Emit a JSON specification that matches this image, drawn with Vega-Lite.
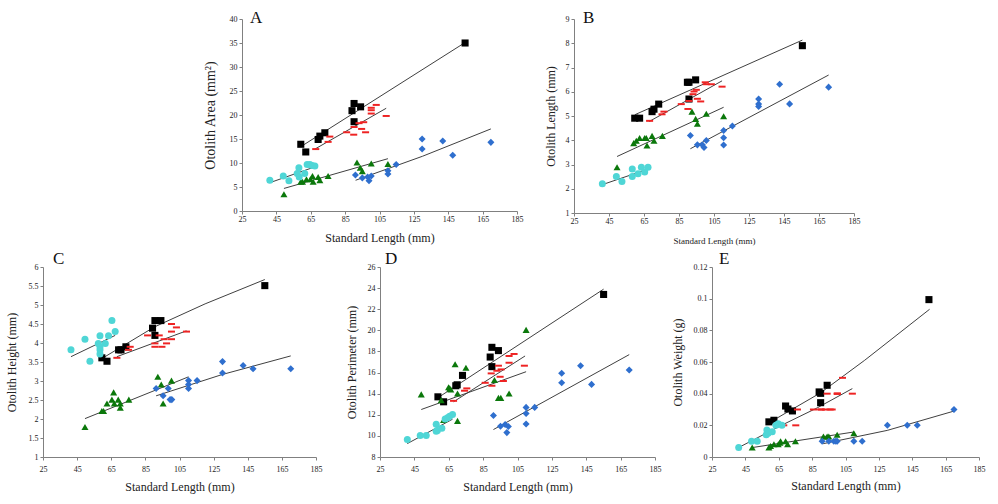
{
  "$schema": "https://vega.github.io/schema/vega-lite/v6.json",
  "padding": {"left": 5, "top": 9, "right": 5, "bottom": 5},
  "config": {
    "font": "Liberation Serif",
    "view": {"stroke": null},
    "axis": {"grid": false, "domainColor": "#808080", "tickColor": "#808080", "tickSize": 3, "labelFontSize": 8, "labelColor": "#222222", "titleColor": "#222222", "titleFontWeight": "normal", "labelFont": "Liberation Serif", "titleFont": "Liberation Serif", "labelOverlap": false, "tickCount": 30, "format": "~g"},
    "axisX": {"labelFlush": false},
    "title": {"font": "Liberation Serif", "fontWeight": "normal", "fontSize": 17, "anchor": "start", "frame": "group", "color": "#111111", "baseline": "alphabetic", "offset": -8},
    "line": {"color": "#404040", "strokeWidth": 1}
  },
  "datasets": {
    "pts": [
      {"panel":"A","species":"black","sl":59.2,"value":13.9},{"panel":"A","species":"black","sl":62.1,"value":12.3},{"panel":"A","species":"black","sl":69.3,"value":14.9},{"panel":"A","species":"black","sl":70.3,"value":15.6},{"panel":"A","species":"black","sl":73.2,"value":16.3},{"panel":"A","species":"black","sl":89.0,"value":20.9},{"panel":"A","species":"black","sl":90.2,"value":22.4},{"panel":"A","species":"black","sl":94.0,"value":21.7},{"panel":"A","species":"black","sl":90.2,"value":18.6},{"panel":"A","species":"black","sl":154.8,"value":35.0},
      {"panel":"A","species":"red","sl":67.9,"value":12.9},{"panel":"A","species":"red","sl":75.1,"value":14.4},{"panel":"A","species":"red","sl":76.1,"value":15.5},{"panel":"A","species":"red","sl":85.9,"value":16.4},{"panel":"A","species":"red","sl":90.0,"value":15.9},{"panel":"A","species":"red","sl":90.2,"value":17.5},{"panel":"A","species":"red","sl":93.1,"value":18.3},{"panel":"A","species":"red","sl":95.8,"value":18.5},{"panel":"A","species":"red","sl":94.6,"value":17.1},{"panel":"A","species":"red","sl":96.9,"value":16.4},{"panel":"A","species":"red","sl":100.2,"value":21.5},{"panel":"A","species":"red","sl":100.2,"value":21.0},{"panel":"A","species":"red","sl":100.2,"value":20.3},{"panel":"A","species":"red","sl":103.1,"value":22.1},{"panel":"A","species":"red","sl":108.9,"value":19.8},
      {"panel":"A","species":"green","sl":49.4,"value":3.5},{"panel":"A","species":"green","sl":59.2,"value":6.1},{"panel":"A","species":"green","sl":60.2,"value":6.1},{"panel":"A","species":"green","sl":62.5,"value":6.6},{"panel":"A","species":"green","sl":64.8,"value":6.6},{"panel":"A","species":"green","sl":66.0,"value":7.3},{"panel":"A","species":"green","sl":66.4,"value":6.1},{"panel":"A","species":"green","sl":69.3,"value":7.1},{"panel":"A","species":"green","sl":70.3,"value":6.4},{"panel":"A","species":"green","sl":75.1,"value":7.3},{"panel":"A","species":"green","sl":91.9,"value":10.1},{"panel":"A","species":"green","sl":93.8,"value":9.0},{"panel":"A","species":"green","sl":95.0,"value":8.3},{"panel":"A","species":"green","sl":100.2,"value":9.9},{"panel":"A","species":"green","sl":109.9,"value":9.8},
      {"panel":"A","species":"blue","sl":91.0,"value":7.5},{"panel":"A","species":"blue","sl":95.0,"value":6.9},{"panel":"A","species":"blue","sl":98.1,"value":7.1},{"panel":"A","species":"blue","sl":98.9,"value":6.3},{"panel":"A","species":"blue","sl":100.2,"value":7.3},{"panel":"A","species":"blue","sl":109.9,"value":8.4},{"panel":"A","species":"blue","sl":109.9,"value":7.7},{"panel":"A","species":"blue","sl":114.7,"value":9.7},{"panel":"A","species":"blue","sl":129.8,"value":15.0},{"panel":"A","species":"blue","sl":129.8,"value":12.9},{"panel":"A","species":"blue","sl":141.8,"value":14.6},{"panel":"A","species":"blue","sl":147.6,"value":11.6},{"panel":"A","species":"blue","sl":169.8,"value":14.3},
      {"panel":"A","species":"cyan","sl":41.2,"value":6.4},{"panel":"A","species":"cyan","sl":49.0,"value":7.3},{"panel":"A","species":"cyan","sl":52.3,"value":6.3},{"panel":"A","species":"cyan","sl":57.1,"value":7.8},{"panel":"A","species":"cyan","sl":58.1,"value":9.0},{"panel":"A","species":"cyan","sl":58.3,"value":7.1},{"panel":"A","species":"cyan","sl":61.5,"value":7.8},{"panel":"A","species":"cyan","sl":62.9,"value":9.7},{"panel":"A","species":"cyan","sl":64.5,"value":9.7},{"panel":"A","species":"cyan","sl":65.8,"value":9.5},{"panel":"A","species":"cyan","sl":67.4,"value":9.4},

      {"panel":"B","species":"black","sl":59.7,"value":4.91},{"panel":"B","species":"black","sl":62.5,"value":4.91},{"panel":"B","species":"black","sl":69.6,"value":5.18},{"panel":"B","species":"black","sl":70.7,"value":5.28},{"panel":"B","species":"black","sl":73.4,"value":5.49},{"panel":"B","species":"black","sl":89.8,"value":6.39},{"panel":"B","species":"black","sl":90.7,"value":6.39},{"panel":"B","species":"black","sl":94.5,"value":6.49},{"panel":"B","species":"black","sl":90.7,"value":5.70},{"panel":"B","species":"black","sl":155.5,"value":7.90},
      {"panel":"B","species":"red","sl":68.2,"value":4.80},{"panel":"B","species":"red","sl":75.3,"value":5.07},{"panel":"B","species":"red","sl":76.4,"value":5.18},{"panel":"B","species":"red","sl":86.3,"value":5.49},{"panel":"B","species":"red","sl":90.1,"value":5.29},{"panel":"B","species":"red","sl":90.7,"value":5.62},{"panel":"B","species":"red","sl":93.0,"value":5.90},{"panel":"B","species":"red","sl":93.6,"value":6.01},{"panel":"B","species":"red","sl":94.9,"value":6.08},{"panel":"B","species":"red","sl":95.5,"value":5.71},{"panel":"B","species":"red","sl":97.4,"value":5.60},{"panel":"B","species":"red","sl":100.0,"value":6.39},{"panel":"B","species":"red","sl":100.6,"value":6.31},{"panel":"B","species":"red","sl":103.5,"value":6.31},{"panel":"B","species":"red","sl":109.6,"value":6.21},
      {"panel":"B","species":"green","sl":49.6,"value":2.89},{"panel":"B","species":"green","sl":59.1,"value":3.88},{"panel":"B","species":"green","sl":60.6,"value":3.98},{"panel":"B","species":"green","sl":62.5,"value":4.09},{"panel":"B","species":"green","sl":65.4,"value":4.09},{"panel":"B","species":"green","sl":66.3,"value":4.09},{"panel":"B","species":"green","sl":66.7,"value":3.78},{"panel":"B","species":"green","sl":69.6,"value":4.18},{"panel":"B","species":"green","sl":70.7,"value":3.98},{"panel":"B","species":"green","sl":75.5,"value":4.18},{"panel":"B","species":"green","sl":92.4,"value":5.18},{"panel":"B","species":"green","sl":94.5,"value":4.88},{"panel":"B","species":"green","sl":95.5,"value":4.68},{"panel":"B","species":"green","sl":100.6,"value":5.09},{"panel":"B","species":"green","sl":110.5,"value":4.99},
      {"panel":"B","species":"blue","sl":91.5,"value":4.20},{"panel":"B","species":"blue","sl":95.5,"value":3.81},{"panel":"B","species":"blue","sl":98.3,"value":3.81},{"panel":"B","species":"blue","sl":99.3,"value":3.70},{"panel":"B","species":"blue","sl":100.6,"value":3.99},{"panel":"B","species":"blue","sl":110.5,"value":4.40},{"panel":"B","species":"blue","sl":110.5,"value":4.10},{"panel":"B","species":"blue","sl":110.5,"value":3.80},{"panel":"B","species":"blue","sl":115.5,"value":4.59},{"panel":"B","species":"blue","sl":130.5,"value":5.70},{"panel":"B","species":"blue","sl":130.5,"value":5.49},{"panel":"B","species":"blue","sl":130.5,"value":5.39},{"panel":"B","species":"blue","sl":142.5,"value":6.31},{"panel":"B","species":"blue","sl":148.2,"value":5.50},{"panel":"B","species":"blue","sl":170.5,"value":6.19},
      {"panel":"B","species":"cyan","sl":41.2,"value":2.21},{"panel":"B","species":"cyan","sl":49.2,"value":2.51},{"panel":"B","species":"cyan","sl":52.4,"value":2.30},{"panel":"B","species":"cyan","sl":58.3,"value":2.81},{"panel":"B","species":"cyan","sl":58.3,"value":2.51},{"panel":"B","species":"cyan","sl":61.6,"value":2.62},{"panel":"B","species":"cyan","sl":63.5,"value":2.89},{"panel":"B","species":"cyan","sl":65.4,"value":2.69},{"panel":"B","species":"cyan","sl":67.3,"value":2.89},

      {"panel":"C","species":"black","sl":59.5,"value":3.61},{"panel":"C","species":"black","sl":62.5,"value":3.52},{"panel":"C","species":"black","sl":69.3,"value":3.82},{"panel":"C","species":"black","sl":70.7,"value":3.82},{"panel":"C","species":"black","sl":73.6,"value":3.90},{"panel":"C","species":"black","sl":89.2,"value":4.39},{"panel":"C","species":"black","sl":90.6,"value":4.59},{"panel":"C","species":"black","sl":94.1,"value":4.59},{"panel":"C","species":"black","sl":90.6,"value":4.20},{"panel":"C","species":"black","sl":155.0,"value":5.51},
      {"panel":"C","species":"red","sl":68.3,"value":3.61},{"panel":"C","species":"red","sl":75.1,"value":3.82},{"panel":"C","species":"red","sl":76.1,"value":3.90},{"panel":"C","species":"red","sl":86.3,"value":4.20},{"panel":"C","species":"red","sl":90.6,"value":3.99},{"panel":"C","species":"red","sl":90.6,"value":3.90},{"panel":"C","species":"red","sl":93.1,"value":4.20},{"panel":"C","species":"red","sl":94.7,"value":3.90},{"panel":"C","species":"red","sl":96.0,"value":4.10},{"panel":"C","species":"red","sl":97.4,"value":3.99},{"panel":"C","species":"red","sl":100.3,"value":4.50},{"panel":"C","species":"red","sl":100.3,"value":4.30},{"panel":"C","species":"red","sl":100.3,"value":4.10},{"panel":"C","species":"red","sl":103.2,"value":4.41},{"panel":"C","species":"red","sl":109.1,"value":4.30},
      {"panel":"C","species":"green","sl":49.6,"value":1.79},{"panel":"C","species":"green","sl":59.5,"value":2.21},{"panel":"C","species":"green","sl":60.5,"value":2.21},{"panel":"C","species":"green","sl":62.5,"value":2.41},{"panel":"C","species":"green","sl":65.4,"value":2.51},{"panel":"C","species":"green","sl":66.4,"value":2.70},{"panel":"C","species":"green","sl":66.8,"value":2.41},{"panel":"C","species":"green","sl":69.1,"value":2.51},{"panel":"C","species":"green","sl":70.3,"value":2.41},{"panel":"C","species":"green","sl":70.3,"value":2.30},{"panel":"C","species":"green","sl":75.3,"value":2.51},{"panel":"C","species":"green","sl":92.3,"value":3.11},{"panel":"C","species":"green","sl":94.3,"value":2.91},{"panel":"C","species":"green","sl":95.4,"value":2.41},{"panel":"C","species":"green","sl":100.3,"value":3.01},
      {"panel":"C","species":"blue","sl":91.3,"value":2.80},{"panel":"C","species":"blue","sl":95.4,"value":2.61},{"panel":"C","species":"blue","sl":98.4,"value":2.80},{"panel":"C","species":"blue","sl":99.5,"value":2.51},{"panel":"C","species":"blue","sl":100.5,"value":2.51},{"panel":"C","species":"blue","sl":110.3,"value":3.01},{"panel":"C","species":"blue","sl":110.3,"value":2.91},{"panel":"C","species":"blue","sl":110.3,"value":2.80},{"panel":"C","species":"blue","sl":115.3,"value":3.01},{"panel":"C","species":"blue","sl":130.2,"value":3.51},{"panel":"C","species":"blue","sl":130.2,"value":3.21},{"panel":"C","species":"blue","sl":142.3,"value":3.41},{"panel":"C","species":"blue","sl":148.1,"value":3.32},{"panel":"C","species":"blue","sl":170.2,"value":3.32},
      {"panel":"C","species":"cyan","sl":41.4,"value":3.82},{"panel":"C","species":"cyan","sl":49.6,"value":4.10},{"panel":"C","species":"cyan","sl":52.5,"value":3.52},{"panel":"C","species":"cyan","sl":57.4,"value":3.99},{"panel":"C","species":"cyan","sl":58.4,"value":4.19},{"panel":"C","species":"cyan","sl":58.4,"value":3.90},{"panel":"C","species":"cyan","sl":58.4,"value":3.82},{"panel":"C","species":"cyan","sl":58.4,"value":3.71},{"panel":"C","species":"cyan","sl":61.5,"value":3.99},{"panel":"C","species":"cyan","sl":63.4,"value":4.19},{"panel":"C","species":"cyan","sl":65.4,"value":4.59},{"panel":"C","species":"cyan","sl":67.3,"value":4.30},

      {"panel":"D","species":"black","sl":58.7,"value":13.70},{"panel":"D","species":"black","sl":62.0,"value":13.23},{"panel":"D","species":"black","sl":69.1,"value":14.75},{"panel":"D","species":"black","sl":69.9,"value":14.84},{"panel":"D","species":"black","sl":73.0,"value":15.73},{"panel":"D","species":"black","sl":89.1,"value":17.47},{"panel":"D","species":"black","sl":90.1,"value":18.39},{"panel":"D","species":"black","sl":93.9,"value":18.08},{"panel":"D","species":"black","sl":90.1,"value":16.56},{"panel":"D","species":"black","sl":155.1,"value":23.40},
      {"panel":"D","species":"red","sl":67.8,"value":13.32},{"panel":"D","species":"red","sl":74.2,"value":14.28},{"panel":"D","species":"red","sl":75.5,"value":14.50},{"panel":"D","species":"red","sl":86.2,"value":15.03},{"panel":"D","species":"red","sl":90.1,"value":14.75},{"panel":"D","species":"red","sl":89.7,"value":15.92},{"panel":"D","species":"red","sl":93.0,"value":16.17},{"panel":"D","species":"red","sl":93.9,"value":16.65},{"panel":"D","species":"red","sl":94.9,"value":15.60},{"panel":"D","species":"red","sl":96.8,"value":15.20},{"panel":"D","species":"red","sl":95.5,"value":16.30},{"panel":"D","species":"red","sl":100.1,"value":17.57},{"panel":"D","species":"red","sl":100.1,"value":16.93},{"panel":"D","species":"red","sl":103.0,"value":17.76},{"panel":"D","species":"red","sl":109.0,"value":16.65},
      {"panel":"D","species":"green","sl":49.0,"value":13.93},{"panel":"D","species":"green","sl":60.6,"value":13.39},{"panel":"D","species":"green","sl":62.0,"value":11.50},{"panel":"D","species":"green","sl":64.9,"value":14.60},{"panel":"D","species":"green","sl":65.6,"value":14.50},{"panel":"D","species":"green","sl":66.2,"value":14.40},{"panel":"D","species":"green","sl":68.7,"value":16.78},{"panel":"D","species":"green","sl":70.1,"value":14.02},{"panel":"D","species":"green","sl":70.1,"value":11.42},{"panel":"D","species":"green","sl":75.0,"value":16.46},{"panel":"D","species":"green","sl":91.6,"value":15.29},{"panel":"D","species":"green","sl":93.9,"value":13.60},{"panel":"D","species":"green","sl":95.3,"value":13.60},{"panel":"D","species":"green","sl":100.1,"value":14.02},{"panel":"D","species":"green","sl":110.0,"value":20.04},
      {"panel":"D","species":"blue","sl":91.0,"value":11.93},{"panel":"D","species":"blue","sl":95.1,"value":10.92},{"panel":"D","species":"blue","sl":97.8,"value":11.07},{"panel":"D","species":"blue","sl":98.8,"value":10.31},{"panel":"D","species":"blue","sl":99.7,"value":10.88},{"panel":"D","species":"blue","sl":110.0,"value":12.70},{"panel":"D","species":"blue","sl":110.0,"value":12.12},{"panel":"D","species":"blue","sl":110.0,"value":11.12},{"panel":"D","species":"blue","sl":115.0,"value":12.70},{"panel":"D","species":"blue","sl":130.7,"value":15.93},{"panel":"D","species":"blue","sl":130.7,"value":15.03},{"panel":"D","species":"blue","sl":141.7,"value":16.65},{"panel":"D","species":"blue","sl":148.1,"value":14.88},{"panel":"D","species":"blue","sl":170.0,"value":16.24},
      {"panel":"D","species":"cyan","sl":40.9,"value":9.65},{"panel":"D","species":"cyan","sl":48.4,"value":10.03},{"panel":"D","species":"cyan","sl":51.9,"value":10.03},{"panel":"D","species":"cyan","sl":57.7,"value":11.11},{"panel":"D","species":"cyan","sl":57.7,"value":10.44},{"panel":"D","species":"cyan","sl":58.4,"value":10.50},{"panel":"D","species":"cyan","sl":61.0,"value":10.72},{"panel":"D","species":"cyan","sl":62.9,"value":11.61},{"panel":"D","species":"cyan","sl":64.3,"value":11.71},{"panel":"D","species":"cyan","sl":65.5,"value":11.87},{"panel":"D","species":"cyan","sl":67.2,"value":12.02},

      {"panel":"E","species":"black","sl":59.1,"value":0.0222},{"panel":"E","species":"black","sl":62.1,"value":0.0232},{"panel":"E","species":"black","sl":69.1,"value":0.0322},{"panel":"E","species":"black","sl":70.5,"value":0.0303},{"panel":"E","species":"black","sl":73.2,"value":0.0291},{"panel":"E","species":"black","sl":89.2,"value":0.0411},{"panel":"E","species":"black","sl":90.1,"value":0.0402},{"panel":"E","species":"black","sl":94.0,"value":0.0453},{"panel":"E","species":"black","sl":90.1,"value":0.0343},{"panel":"E","species":"black","sl":155.0,"value":0.0994},
      {"panel":"E","species":"red","sl":68.0,"value":0.02},{"panel":"E","species":"red","sl":75.2,"value":0.02},{"panel":"E","species":"red","sl":76.2,"value":0.03},{"panel":"E","species":"red","sl":85.8,"value":0.03},{"panel":"E","species":"red","sl":90.1,"value":0.03},{"panel":"E","species":"red","sl":90.6,"value":0.03},{"panel":"E","species":"red","sl":93.1,"value":0.03},{"panel":"E","species":"red","sl":95.8,"value":0.03},{"panel":"E","species":"red","sl":94.0,"value":0.04},{"panel":"E","species":"red","sl":97.0,"value":0.03},{"panel":"E","species":"red","sl":100.1,"value":0.04},{"panel":"E","species":"red","sl":100.1,"value":0.04},{"panel":"E","species":"red","sl":100.1,"value":0.04},{"panel":"E","species":"red","sl":103.2,"value":0.05},{"panel":"E","species":"red","sl":109.1,"value":0.04},
      {"panel":"E","species":"green","sl":49.1,"value":0.006},{"panel":"E","species":"green","sl":59.1,"value":0.006},{"panel":"E","species":"green","sl":60.1,"value":0.007},{"panel":"E","species":"green","sl":62.1,"value":0.008},{"panel":"E","species":"green","sl":64.7,"value":0.008},{"panel":"E","species":"green","sl":65.7,"value":0.009},{"panel":"E","species":"green","sl":66.1,"value":0.01},{"panel":"E","species":"green","sl":69.1,"value":0.01},{"panel":"E","species":"green","sl":70.3,"value":0.008},{"panel":"E","species":"green","sl":75.0,"value":0.01},{"panel":"E","species":"green","sl":91.8,"value":0.013},{"panel":"E","species":"green","sl":94.0,"value":0.013},{"panel":"E","species":"green","sl":95.0,"value":0.013},{"panel":"E","species":"green","sl":100.0,"value":0.014},{"panel":"E","species":"green","sl":110.0,"value":0.015},
      {"panel":"E","species":"blue","sl":91.0,"value":0.01},{"panel":"E","species":"blue","sl":95.0,"value":0.01},{"panel":"E","species":"blue","sl":98.0,"value":0.01},{"panel":"E","species":"blue","sl":99.2,"value":0.01},{"panel":"E","species":"blue","sl":100.0,"value":0.01},{"panel":"E","species":"blue","sl":110.0,"value":0.01},{"panel":"E","species":"blue","sl":115.0,"value":0.01},{"panel":"E","species":"blue","sl":130.1,"value":0.02},{"panel":"E","species":"blue","sl":142.0,"value":0.02},{"panel":"E","species":"blue","sl":148.0,"value":0.02},{"panel":"E","species":"blue","sl":170.0,"value":0.03},
      {"panel":"E","species":"cyan","sl":41.0,"value":0.006},{"panel":"E","species":"cyan","sl":48.7,"value":0.01},{"panel":"E","species":"cyan","sl":52.1,"value":0.01},{"panel":"E","species":"cyan","sl":57.5,"value":0.014},{"panel":"E","species":"cyan","sl":57.9,"value":0.017},{"panel":"E","species":"cyan","sl":58.6,"value":0.015},{"panel":"E","species":"cyan","sl":61.1,"value":0.016},{"panel":"E","species":"cyan","sl":63.3,"value":0.02},{"panel":"E","species":"cyan","sl":64.7,"value":0.021},{"panel":"E","species":"cyan","sl":66.9,"value":0.02}
    ],
    "fits": [
      {"panel":"A","species":"black","sl":59.2,"value":13.4},{"panel":"A","species":"black","sl":154.8,"value":35.1},
      {"panel":"A","species":"red","sl":67.4,"value":12.9},{"panel":"A","species":"red","sl":108.9,"value":21.4},
      {"panel":"A","species":"green","sl":49.4,"value":4.7},{"panel":"A","species":"green","sl":109.9,"value":10.9},
      {"panel":"A","species":"blue","sl":91.1,"value":6.4},{"panel":"A","species":"blue","sl":130.0,"value":11.4},{"panel":"A","species":"blue","sl":169.8,"value":17.1},
      {"panel":"A","species":"cyan","sl":41.2,"value":5.9},{"panel":"A","species":"cyan","sl":67.4,"value":9.2},
      {"panel":"B","species":"black","sl":59.7,"value":5.05},{"panel":"B","species":"black","sl":155.5,"value":8.13},
      {"panel":"B","species":"red","sl":67.9,"value":4.77},{"panel":"B","species":"red","sl":109.6,"value":6.45},
      {"panel":"B","species":"green","sl":49.6,"value":3.33},{"panel":"B","species":"green","sl":110.5,"value":5.36},
      {"panel":"B","species":"blue","sl":91.5,"value":3.65},{"panel":"B","species":"blue","sl":170.5,"value":6.69},
      {"panel":"B","species":"cyan","sl":41.2,"value":2.17},{"panel":"B","species":"cyan","sl":67.3,"value":2.81},
      {"panel":"C","species":"black","sl":59.5,"value":3.59},{"panel":"C","species":"black","sl":90.2,"value":4.42},{"panel":"C","species":"black","sl":120.0,"value":5.03},{"panel":"C","species":"black","sl":155.0,"value":5.67},
      {"panel":"C","species":"red","sl":68.3,"value":3.64},{"panel":"C","species":"red","sl":109.1,"value":4.32},
      {"panel":"C","species":"green","sl":49.6,"value":2.01},{"panel":"C","species":"green","sl":110.3,"value":3.11},
      {"panel":"C","species":"blue","sl":91.3,"value":2.61},{"panel":"C","species":"blue","sl":130.0,"value":3.17},{"panel":"C","species":"blue","sl":170.2,"value":3.66},
      {"panel":"C","species":"cyan","sl":41.4,"value":3.64},{"panel":"C","species":"cyan","sl":67.3,"value":4.20},
      {"panel":"D","species":"black","sl":58.1,"value":13.55},{"panel":"D","species":"black","sl":155.1,"value":23.9},
      {"panel":"D","species":"red","sl":67.8,"value":13.23},{"panel":"D","species":"red","sl":109.4,"value":17.57},
      {"panel":"D","species":"green","sl":49.0,"value":12.5},{"panel":"D","species":"green","sl":110.0,"value":16.08},
      {"panel":"D","species":"blue","sl":91.0,"value":10.6},{"panel":"D","species":"blue","sl":170.0,"value":17.7},
      {"panel":"D","species":"cyan","sl":40.9,"value":9.27},{"panel":"D","species":"cyan","sl":67.2,"value":11.58},
      {"panel":"E","species":"black","sl":58.3,"value":0.0211},{"panel":"E","species":"black","sl":90.0,"value":0.0405},{"panel":"E","species":"black","sl":116.5,"value":0.0611},{"panel":"E","species":"black","sl":155.4,"value":0.0933},
      {"panel":"E","species":"red","sl":67.0,"value":0.0202},{"panel":"E","species":"red","sl":88.0,"value":0.0310},{"panel":"E","species":"red","sl":109.1,"value":0.0432},
      {"panel":"E","species":"green","sl":48.7,"value":0.0059},{"panel":"E","species":"green","sl":110.1,"value":0.0158},
      {"panel":"E","species":"blue","sl":91.6,"value":0.0084},{"panel":"E","species":"blue","sl":130.0,"value":0.0168},{"panel":"E","species":"blue","sl":170.0,"value":0.029},
      {"panel":"E","species":"cyan","sl":40.8,"value":0.0059},{"panel":"E","species":"cyan","sl":67.0,"value":0.0202}
    ]
  },
  "vconcat": [
    {
      "spacing": 21,
      "hconcat": [
        {"width": 139, "height": 5, "data": {"values": []}, "mark": "point", "encoding": {}},
        {
          "width": 275, "height": 192,
          "title": {"text": "A", "dx": 8, "dy": 4},
          "layer": [
            {"data": {"name": "fits"}, "transform": [{"filter": "datum.panel === 'A'"}], "mark": {"type": "line"},
             "encoding": {
               "x": {"field": "sl", "type": "quantitative", "scale": {"domain": [25, 185], "nice": false, "zero": false}, "axis": {"title": "Standard Length (mm)", "values": [25,45,65,85,105,125,145,165,185], "format": "~g", "tickCount": 30, "labelOverlap": false, "labelPadding": 1, "minExtent": 12, "maxExtent": 12, "titlePadding": 9, "titleFontSize": 12}},
               "y": {"field": "value", "type": "quantitative", "scale": {"domain": [0, 40], "nice": false}, "axis": {"title": "Otolith Area (mm²)", "values": [0,5,10,15,20,25,30,35,40], "format": "~g", "tickCount": 30, "labelOverlap": false, "labelPadding": 2, "minExtent": 20, "maxExtent": 20, "titlePadding": 5, "titleFontSize": 14}},
               "detail": {"field": "species"}}},
            {"data": {"name": "pts"}, "transform": [{"filter": "datum.panel === 'A'"}], "mark": {"type": "point", "filled": true, "opacity": 1},
             "encoding": {
               "x": {"field": "sl", "type": "quantitative"},
               "y": {"field": "value", "type": "quantitative"},
               "color": {"field": "species", "type": "nominal", "scale": {"domain": ["black","red","blue","green","cyan"], "range": ["#000000","#ee2323","#2f6fce","#0b780b","#4fd6d6"]}, "legend": null},
               "shape": {"field": "species", "type": "nominal", "scale": {"domain": ["black","red","blue","green","cyan"], "range": ["square","M-1,-0.28L1,-0.28L1,0.28L-1,0.28Z","diamond","triangle-up","circle"]}, "legend": null},
               "size": {"field": "species", "type": "nominal", "scale": {"domain": ["black","red","blue","green","cyan"], "range": [50,49,40,42,42]}, "legend": null}}}
          ]
        },
        {
          "width": 280, "height": 194,
          "title": {"text": "B", "dx": 9, "dy": 4},
          "layer": [
            {"data": {"name": "fits"}, "transform": [{"filter": "datum.panel === 'B'"}], "mark": {"type": "line"},
             "encoding": {
               "x": {"field": "sl", "type": "quantitative", "scale": {"domain": [25, 185], "nice": false, "zero": false}, "axis": {"title": "Standard Length (mm)", "values": [25,45,65,85,105,125,145,165,185], "format": "~g", "tickCount": 30, "labelOverlap": false, "labelPadding": 1, "minExtent": 12, "maxExtent": 12, "titlePadding": 11, "titleFontSize": 9}},
               "y": {"field": "value", "type": "quantitative", "scale": {"domain": [1, 9], "nice": false, "zero": false}, "axis": {"title": "Otolith Length (mm)", "values": [1,2,3,4,5,6,7,8,9], "format": "~g", "tickCount": 30, "labelOverlap": false, "labelPadding": 2, "minExtent": 12, "maxExtent": 12, "titlePadding": 5, "titleFontSize": 12}},
               "detail": {"field": "species"}}},
            {"data": {"name": "pts"}, "transform": [{"filter": "datum.panel === 'B'"}], "mark": {"type": "point", "filled": true, "opacity": 1},
             "encoding": {
               "x": {"field": "sl", "type": "quantitative"},
               "y": {"field": "value", "type": "quantitative"},
               "color": {"field": "species", "type": "nominal", "legend": null},
               "shape": {"field": "species", "type": "nominal", "legend": null},
               "size": {"field": "species", "type": "nominal", "legend": null}}}
          ]
        }
      ]
    },
    {
      "spacing": 10,
      "hconcat": [
        {
          "width": 273, "height": 190,
          "title": {"text": "C", "dx": 10, "dy": -3},
          "layer": [
            {"data": {"name": "fits"}, "transform": [{"filter": "datum.panel === 'C'"}], "mark": {"type": "line"},
             "encoding": {
               "x": {"field": "sl", "type": "quantitative", "scale": {"domain": [25, 185], "nice": false, "zero": false}, "axis": {"title": "Standard Length (mm)", "values": [25,45,65,85,105,125,145,165,185], "format": "~g", "tickCount": 30, "labelOverlap": false, "labelPadding": 5, "minExtent": 16, "maxExtent": 16, "titlePadding": 8, "titleFontSize": 12}},
               "y": {"field": "value", "type": "quantitative", "scale": {"domain": [1, 6], "nice": false, "zero": false}, "axis": {"title": "Otolith Height (mm)", "values": [1,1.5,2,2.5,3,3.5,4,4.5,5,5.5,6], "tickCount": 30, "format": "~g", "labelOverlap": false, "labelPadding": 2, "minExtent": 20, "maxExtent": 20, "titlePadding": 5, "titleFontSize": 12}},
               "detail": {"field": "species"}}},
            {"data": {"name": "pts"}, "transform": [{"filter": "datum.panel === 'C'"}], "mark": {"type": "point", "filled": true, "opacity": 1},
             "encoding": {
               "x": {"field": "sl", "type": "quantitative"},
               "y": {"field": "value", "type": "quantitative"},
               "color": {"field": "species", "type": "nominal", "legend": null},
               "shape": {"field": "species", "type": "nominal", "legend": null},
               "size": {"field": "species", "type": "nominal", "legend": null}}}
          ]
        },
        {"width": 3, "height": 5, "data": {"values": []}, "mark": "point", "encoding": {}},
        {
          "width": 275, "height": 190,
          "title": {"text": "D", "dx": 5, "dy": -3},
          "layer": [
            {"data": {"name": "fits"}, "transform": [{"filter": "datum.panel === 'D'"}], "mark": {"type": "line"},
             "encoding": {
               "x": {"field": "sl", "type": "quantitative", "scale": {"domain": [25, 185], "nice": false, "zero": false}, "axis": {"title": "Standard Length (mm)", "values": [25,45,65,85,105,125,145,165,185], "format": "~g", "tickCount": 30, "labelOverlap": false, "labelPadding": 5, "minExtent": 16, "maxExtent": 16, "titlePadding": 8, "titleFontSize": 12}},
               "y": {"field": "value", "type": "quantitative", "scale": {"domain": [8, 26], "nice": false, "zero": false}, "axis": {"title": "Otolith Perimeter (mm)", "values": [8,10,12,14,16,18,20,22,24,26], "format": "~g", "tickCount": 30, "labelOverlap": false, "labelPadding": 2, "minExtent": 20, "maxExtent": 20, "titlePadding": 2, "titleFontSize": 12}},
               "detail": {"field": "species"}}},
            {"data": {"name": "pts"}, "transform": [{"filter": "datum.panel === 'D'"}], "mark": {"type": "point", "filled": true, "opacity": 1},
             "encoding": {
               "x": {"field": "sl", "type": "quantitative"},
               "y": {"field": "value", "type": "quantitative"},
               "color": {"field": "species", "type": "nominal", "legend": null},
               "shape": {"field": "species", "type": "nominal", "legend": null},
               "size": {"field": "species", "type": "nominal", "legend": null}}}
          ]
        },
        {
          "width": 267, "height": 190,
          "title": {"text": "E", "dx": 7, "dy": -3},
          "layer": [
            {"data": {"name": "fits"}, "transform": [{"filter": "datum.panel === 'E'"}], "mark": {"type": "line"},
             "encoding": {
               "x": {"field": "sl", "type": "quantitative", "scale": {"domain": [25, 185], "nice": false, "zero": false}, "axis": {"title": "Standard Length (mm)", "values": [25,45,65,85,105,125,145,165,185], "format": "~g", "tickCount": 30, "labelOverlap": false, "labelPadding": 5, "minExtent": 16, "maxExtent": 16, "titlePadding": 7, "titleFontSize": 12}},
               "y": {"field": "value", "type": "quantitative", "scale": {"domain": [0, 0.12], "nice": false}, "axis": {"title": "Otolith Weight (g)", "values": [0,0.02,0.04,0.06,0.08,0.1,0.12], "tickCount": 30, "format": "~g", "labelOverlap": false, "labelPadding": 2, "minExtent": 20, "maxExtent": 20, "titlePadding": 8, "titleFontSize": 12}},
               "detail": {"field": "species"}}},
            {"data": {"name": "pts"}, "transform": [{"filter": "datum.panel === 'E'"}], "mark": {"type": "point", "filled": true, "opacity": 1},
             "encoding": {
               "x": {"field": "sl", "type": "quantitative"},
               "y": {"field": "value", "type": "quantitative"},
               "color": {"field": "species", "type": "nominal", "legend": null},
               "shape": {"field": "species", "type": "nominal", "legend": null},
               "size": {"field": "species", "type": "nominal", "legend": null}}}
          ]
        }
      ]
    }
  ],
  "spacing": 5
}
